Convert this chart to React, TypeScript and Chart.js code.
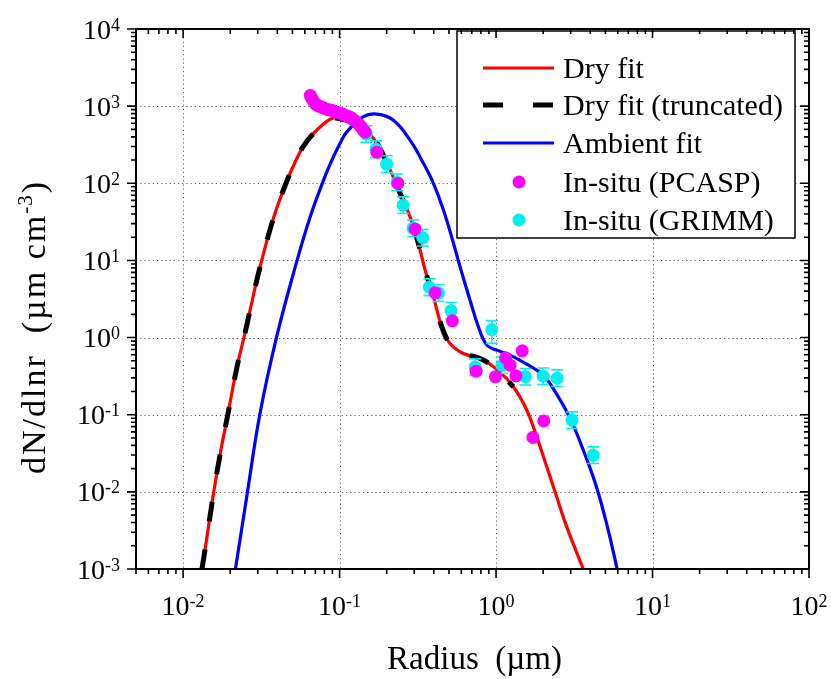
import React, { useEffect, useRef } from "react";
import { Chart, registerables } from "chart.js";

Chart.register(...registerables);

// ---- Data ----
const dryFitX = [0.0132, 0.0139, 0.0157, 0.0173, 0.0193, 0.0221, 0.025, 0.028, 0.0312, 0.0379, 0.0457, 0.0521, 0.0589, 0.0682, 0.0851, 0.095, 0.126, 0.165, 0.206, 0.244, 0.282, 0.319, 0.352, 0.398, 0.45, 0.508, 0.618, 0.791, 1.01, 1.29, 1.57, 1.82, 2.11, 2.44, 2.83, 3.61];
const dryFitY = [0.001, 0.00194, 0.01, 0.0318, 0.1, 0.417, 1.2, 3.4, 8.6, 36, 103, 190, 305, 443, 658, 700, 584, 381, 163, 73.8, 36.7, 16.6, 7.48, 3.37, 1.38, 0.839, 0.622, 0.536, 0.39, 0.23, 0.115, 0.0516, 0.0211, 0.00861, 0.00352, 0.001];

const truncX = [0.0132, 0.0139, 0.0157, 0.0173, 0.0193, 0.0221, 0.025, 0.028, 0.0312, 0.0379, 0.0457, 0.0521, 0.0589, 0.0682, 0.0851, 0.095, 0.126, 0.165, 0.206, 0.244, 0.282, 0.319, 0.352, 0.398, 0.45, 0.508, 0.618, 0.791, 1.01, 1.29];
const truncY = [0.001, 0.00194, 0.01, 0.0318, 0.1, 0.417, 1.2, 3.4, 8.6, 36, 103, 190, 305, 443, 658, 700, 584, 381, 163, 73.8, 36.7, 16.6, 7.48, 3.37, 1.38, 0.839, 0.622, 0.536, 0.39, 0.23];

const ambientX = [0.0216, 0.0258, 0.0309, 0.0395, 0.0535, 0.065, 0.0783, 0.0873, 0.1, 0.111, 0.142, 0.173, 0.221, 0.282, 0.344, 0.398, 0.461, 0.535, 0.589, 0.682, 0.771, 0.873, 1.01, 1.23, 1.57, 2.0, 2.44, 2.97, 3.61, 4.39, 5.21, 5.94];
const ambientY = [0.001, 0.01, 0.1, 1, 10, 37, 105, 180, 320, 460, 730, 788, 658, 362, 181, 99.5, 44.9, 16.6, 8.26, 3.05, 1.38, 0.798, 0.687, 0.592, 0.452, 0.326, 0.185, 0.0902, 0.0347, 0.0115, 0.00319, 0.001];

const pcaspX = [0.065, 0.066, 0.0674, 0.0687, 0.07, 0.0715, 0.0731, 0.075, 0.0772, 0.0795, 0.0823, 0.0855, 0.0894, 0.092, 0.0953, 0.099, 0.1036, 0.106, 0.11, 0.113, 0.117, 0.12, 0.124, 0.128, 0.132, 0.135, 0.138, 0.142, 0.146, 0.173, 0.236, 0.304, 0.408, 0.526, 0.745, 0.991, 1.15, 1.23, 1.34, 1.47, 1.72, 2.02];
const pcaspY = [1377, 1290, 1197, 1130, 1071, 1040, 1015, 990, 970, 940, 914, 900, 880, 860, 836, 815, 795, 775, 753, 735, 720, 690, 658, 625, 590, 560, 534, 484, 460, 253, 99.5, 25.5, 3.8, 1.65, 0.367, 0.31, 0.546, 0.439, 0.319, 0.673, 0.0507, 0.0832];

const grimmX = [0.148, 0.171, 0.2, 0.233, 0.255, 0.295, 0.34, 0.375, 0.429, 0.516, 0.735, 0.94, 1.09, 1.54, 2.0, 2.46, 3.06, 4.18];
const grimmY = [434, 277, 177, 103, 52.1, 26.2, 19.7, 4.5, 3.77, 2.23, 0.414, 1.27, 0.439, 0.311, 0.316, 0.298, 0.0851, 0.0299];
const grimmLow = [340, 215, 138, 80, 40.6, 20.4, 15.4, 3.5, 2.94, 1.74, 0.323, 0.84, 0.342, 0.243, 0.246, 0.232, 0.0664, 0.0233];
const grimmHigh = [555, 355, 227, 132, 66.7, 33.5, 25.2, 5.76, 4.83, 2.85, 0.53, 1.66, 0.562, 0.398, 0.404, 0.381, 0.109, 0.0383];

const xTickExps = [-2, -1, 0, 1, 2];
const yTickExps = [-3, -2, -1, 0, 1, 2, 3, 4];
const X_MIN = 0.005;
const X_MAX = 100;
const Y_MIN = 0.001;
const Y_MAX = 10000;

const legendLabels = ["Dry fit", "Dry fit (truncated)", "Ambient fit", "In-situ (PCASP)", "In-situ (GRIMM)"];
const xTitle = "Radius  (\u00b5m)";
const yTitleMain = "dN/dlnr  (\u00b5m cm";
const yTitleSup = "-3";
const yTitleClose = ")";

const SERIF = '"Liberation Serif", "Times New Roman", serif';
const GRIMM_INDEX = 1;

const pts = (xs: number[], ys: number[]) => xs.map((x, i) => ({ x, y: ys[i] }));

function drawSpaced(ctx: CanvasRenderingContext2D, text: string, x: number, y: number, spacing: number): number {
  let cx = x;
  for (const ch of text) {
    ctx.fillText(ch, cx, y);
    cx += ctx.measureText(ch).width + spacing;
  }
  return cx;
}

const decorPlugin = {
  id: "decor",
  beforeDatasetsDraw(chart: any) {
    const ctx = chart.ctx;
    const xs = chart.scales.x;
    const ys = chart.scales.y;
    const a = chart.chartArea;
    ctx.save();
    ctx.strokeStyle = "#666";
    ctx.lineWidth = 1;
    ctx.setLineDash([1.2, 3]);
    for (const e of xTickExps) {
      const v = Math.pow(10, e);
      if (v <= X_MIN || v >= X_MAX) continue;
      const px = Math.round(xs.getPixelForValue(v)) + 0.5;
      ctx.beginPath();
      ctx.moveTo(px, a.top);
      ctx.lineTo(px, a.bottom);
      ctx.stroke();
    }
    for (const e of yTickExps) {
      const v = Math.pow(10, e);
      if (v <= Y_MIN || v >= Y_MAX) continue;
      const py = Math.round(ys.getPixelForValue(v)) + 0.5;
      ctx.beginPath();
      ctx.moveTo(a.left, py);
      ctx.lineTo(a.right, py);
      ctx.stroke();
    }
    ctx.restore();
  },
  beforeDatasetDraw(chart: any, args: any) {
    if (args.index !== GRIMM_INDEX) return;
    const ctx = chart.ctx;
    const xs = chart.scales.x;
    const ys = chart.scales.y;
    ctx.save();
    ctx.strokeStyle = "#00F0F0";
    ctx.lineWidth = 1.6;
    for (let i = 0; i < grimmX.length; i++) {
      const px = xs.getPixelForValue(grimmX[i]);
      const pl = ys.getPixelForValue(grimmLow[i]);
      const ph = ys.getPixelForValue(grimmHigh[i]);
      ctx.beginPath();
      ctx.moveTo(px, pl);
      ctx.lineTo(px, ph);
      ctx.moveTo(px - 6, pl);
      ctx.lineTo(px + 6, pl);
      ctx.moveTo(px - 6, ph);
      ctx.lineTo(px + 6, ph);
      ctx.stroke();
    }
    ctx.restore();
  },
  afterDraw(chart: any) {
    const ctx = chart.ctx;
    const xs = chart.scales.x;
    const ys = chart.scales.y;
    const a = chart.chartArea;
    ctx.save();

    // Legend box
    const lb = { l: 457, t: 31, r: 795, b: 238 };
    ctx.fillStyle = "#fff";
    ctx.fillRect(lb.l, lb.t, lb.r - lb.l, lb.b - lb.t);
    ctx.strokeStyle = "#000";
    ctx.lineWidth = 1.5;
    ctx.strokeRect(lb.l, lb.t, lb.r - lb.l, lb.b - lb.t);
    const rowY = [68, 105, 143, 182, 220];
    const ds = chart.data.datasets;
    const order = [3, 2, 4, 0, 1]; // legend rows -> dataset index
    ctx.font = `30px ${SERIF}`;
    ctx.textBaseline = "alphabetic";
    ctx.textAlign = "left";
    for (let r = 0; r < 5; r++) {
      const d: any = ds[order[r]];
      const y = rowY[r];
      if (r < 3) {
        ctx.save();
        ctx.strokeStyle = d.borderColor;
        ctx.lineWidth = d.borderWidth;
        ctx.setLineDash(d.borderDash ? [20, 30] : []);
        ctx.beginPath();
        ctx.moveTo(483, y);
        ctx.lineTo(554, y);
        ctx.stroke();
        ctx.restore();
      } else {
        ctx.fillStyle = d.backgroundColor;
        ctx.beginPath();
        ctx.arc(519, y, 6.5, 0, Math.PI * 2);
        ctx.fill();
      }
      ctx.fillStyle = "#000";
      ctx.fillText(legendLabels[r], 563, y + 10);
    }

    // Frame
    ctx.strokeStyle = "#000";
    ctx.lineWidth = 2;
    ctx.setLineDash([]);
    ctx.strokeRect(a.left, a.top, a.right - a.left, a.bottom - a.top);

    // Ticks
    ctx.lineWidth = 1.6;
    const major = 9;
    const minor = 5;
    ctx.beginPath();
    for (let e = -3; e <= 2; e++) {
      for (let m = 1; m <= 9; m++) {
        const v = m * Math.pow(10, e);
        if (v < X_MIN - 1e-12 || v > X_MAX + 1e-9) continue;
        const px = xs.getPixelForValue(v);
        const len = m === 1 ? major : minor;
        ctx.moveTo(px, a.bottom);
        ctx.lineTo(px, a.bottom + len);
        ctx.moveTo(px, a.top);
        ctx.lineTo(px, a.top + len);
      }
    }
    for (let e = -3; e <= 4; e++) {
      for (let m = 1; m <= 9; m++) {
        const v = m * Math.pow(10, e);
        if (v < Y_MIN - 1e-12 || v > Y_MAX + 1e-9) continue;
        const py = ys.getPixelForValue(v);
        const len = m === 1 ? major : minor;
        ctx.moveTo(a.left, py);
        ctx.lineTo(a.left - len, py);
        ctx.moveTo(a.right, py);
        ctx.lineTo(a.right - len, py);
      }
    }
    ctx.stroke();

    // Tick labels
    ctx.fillStyle = "#000";
    const baseFont = `28px ${SERIF}`;
    const supFont = `18px ${SERIF}`;
    for (const e of xTickExps) {
      const px = xs.getPixelForValue(Math.pow(10, e));
      const sup = String(e);
      ctx.font = baseFont;
      const wb = ctx.measureText("10").width;
      ctx.font = supFont;
      const wsu = ctx.measureText(sup).width;
      const start = px - (wb + wsu) / 2;
      const base = 615;
      ctx.font = baseFont;
      ctx.fillText("10", start, base);
      ctx.font = supFont;
      ctx.fillText(sup, start + wb, base - 8);
    }
    for (const e of yTickExps) {
      const py = ys.getPixelForValue(Math.pow(10, e));
      const sup = String(e);
      ctx.font = baseFont;
      const wb = ctx.measureText("10").width;
      ctx.font = supFont;
      const wsu = ctx.measureText(sup).width;
      const right = 120;
      const start = right - wb - wsu;
      const base = py + 9.5;
      ctx.font = baseFont;
      ctx.fillText("10", start, base);
      ctx.font = supFont;
      ctx.fillText(sup, start + wb, base - 8);
    }

    // X axis title
    ctx.font = `33px ${SERIF}`;
    ctx.textAlign = "center";
    ctx.fillText(xTitle, (a.left + a.right) / 2 + 2, 669);

    // Y axis title (rotated)
    ctx.save();
    ctx.translate(45, 474);
    ctx.rotate(-Math.PI / 2);
    ctx.textAlign = "left";
    ctx.font = `34px ${SERIF}`;
    let cx = drawSpaced(ctx, yTitleMain, 0, 0, 2);
    ctx.font = `21px ${SERIF}`;
    cx = drawSpaced(ctx, yTitleSup, cx, -13, 1);
    ctx.font = `34px ${SERIF}`;
    ctx.fillText(yTitleClose, cx + 1, 0);
    ctx.restore();

    ctx.restore();
  },
};

export default function App() {
  const ref = useRef<HTMLCanvasElement>(null);
  useEffect(() => {
    const canvas = ref.current;
    if (!canvas) return;
    const chart = new Chart(canvas, {
      type: "scatter",
      data: {
        datasets: [
          {
            label: "In-situ (PCASP)",
            data: pts(pcaspX, pcaspY),
            showLine: false,
            pointRadius: 6.5,
            pointBorderWidth: 0,
            backgroundColor: "#FF00FF",
            borderColor: "#FF00FF",
            order: 0,
          },
          {
            label: "In-situ (GRIMM)",
            data: pts(grimmX, grimmY),
            showLine: false,
            pointRadius: 6.5,
            pointBorderWidth: 0,
            backgroundColor: "#00F0F0",
            borderColor: "#00F0F0",
            order: 1,
          },
          {
            label: "Dry fit (truncated)",
            data: pts(truncX, truncY),
            showLine: true,
            pointRadius: 0,
            borderColor: "#000000",
            backgroundColor: "#000000",
            borderWidth: 5,
            borderDash: [20, 28],
            tension: 0.4,
            order: 2,
          },
          {
            label: "Dry fit",
            data: pts(dryFitX, dryFitY),
            showLine: true,
            pointRadius: 0,
            borderColor: "#FF0000",
            backgroundColor: "#FF0000",
            borderWidth: 3.2,
            tension: 0.4,
            order: 3,
          },
          {
            label: "Ambient fit",
            data: pts(ambientX, ambientY),
            showLine: true,
            pointRadius: 0,
            borderColor: "#0000FF",
            backgroundColor: "#0000FF",
            borderWidth: 3.2,
            tension: 0.4,
            order: 4,
          },
        ],
      },
      options: {
        responsive: false,
        animation: false,
        devicePixelRatio: 1,
        layout: { padding: { left: 136, right: 22, top: 29, bottom: 110 } },
        plugins: { legend: { display: false }, tooltip: { enabled: false } },
        scales: {
          x: { type: "logarithmic", min: X_MIN, max: X_MAX, display: false },
          y: { type: "logarithmic", min: Y_MIN, max: Y_MAX, display: false },
        },
      },
      plugins: [decorPlugin],
    } as any);
    return () => chart.destroy();
  }, []);
  return (
    <div style={{ position: "absolute", left: 0, top: 0, width: 831, height: 679, background: "#fff" }}>
      <canvas ref={ref} width={831} height={679} style={{ display: "block" }} />
    </div>
  );
}
